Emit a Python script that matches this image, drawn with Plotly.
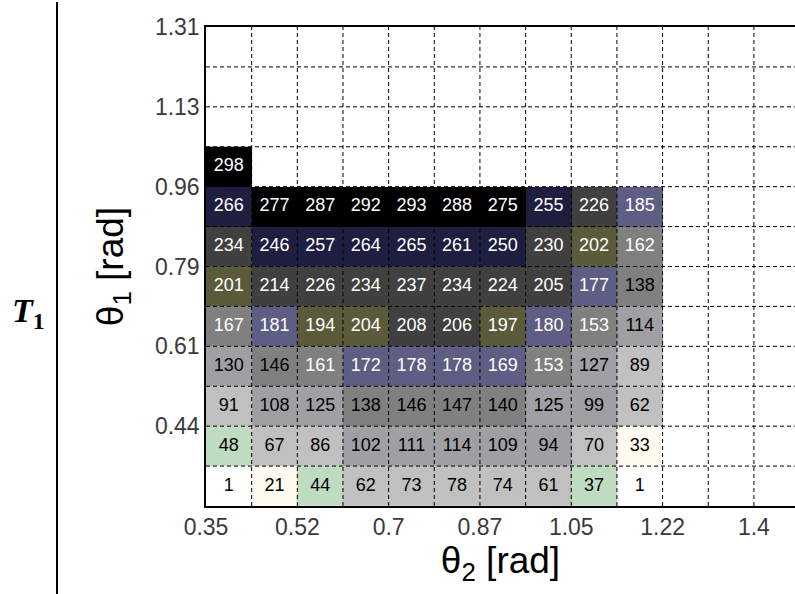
import numpy as np
import plotly.graph_objects as go

# Cell grid: theta2 columns start at 20 deg, theta1 rows start at 15 deg, 5 deg steps
theta2_start_deg = 20.0
theta1_start_deg = 15.0
step_deg = 5.0

# Counts per cell, rows listed from the lowest theta1 band upwards (None = empty cell)
row_0 = [1, 21, 44, 62, 73, 78, 74, 61, 37, 1]
row_1 = [48, 67, 86, 102, 111, 114, 109, 94, 70, 33]
row_2 = [91, 108, 125, 138, 146, 147, 140, 125, 99, 62]
row_3 = [130, 146, 161, 172, 178, 178, 169, 153, 127, 89]
row_4 = [167, 181, 194, 204, 208, 206, 197, 180, 153, 114]
row_5 = [201, 214, 226, 234, 237, 234, 224, 205, 177, 138]
row_6 = [234, 246, 257, 264, 265, 261, 250, 230, 202, 162]
row_7 = [266, 277, 287, 292, 293, 288, 275, 255, 226, 185]
row_8 = [298, None, None, None, None, None, None, None, None, None]
rows = [row_0, row_1, row_2, row_3, row_4, row_5, row_6, row_7, row_8]

# Colour bands
band_edges = [10, 35, 55, 92, 135, 168, 190, 204.5, 240, 270]
band_colors = ["#ffffff", "#fffbf0", "#c0dcc0", "#c0c0c0", "#a0a0a4", "#808080",
               "#5e5e84", "#5b5b3c", "#404040", "#1e1e40", "#000000"]
white_text_from = 150

# Tick labels
x_tick_deg = [20, 30, 40, 50, 60, 70, 80]
x_tick_text = ["0.35", "0.52", "0.7", "0.87", "1.05", "1.22", "1.4"]
y_tick_deg = [25, 35, 45, 55, 65, 75]
y_tick_text = ["0.44", "0.61", "0.79", "0.96", "1.13", "1.31"]

n_rows = len(rows)
n_cols = len(rows[0])
x_centers = np.radians(theta2_start_deg + step_deg * (np.arange(n_cols) + 0.5))
y_centers = np.radians(theta1_start_deg + step_deg * (np.arange(n_rows) + 0.5))

z_band = []
for r in rows:
    z_band.append([None if v is None else int(np.digitize(v, band_edges)) for v in r])

nb = len(band_colors)
colorscale = []
for i, c in enumerate(band_colors):
    colorscale.append([i / nb, c])
    colorscale.append([(i + 1) / nb, c])

fig = go.Figure()
fig.add_trace(go.Heatmap(
    x=x_centers, y=y_centers, z=z_band,
    zmin=-0.5, zmax=nb - 0.5, colorscale=colorscale,
    showscale=False, hoverinfo="skip", connectgaps=False,
))

# Dashed grid on top of the cells
x_lo_deg, x_hi_deg = 20.0, 84.5
y_lo_deg, y_hi_deg = 15.0, 75.0
gx, gy = [], []
for d in np.arange(x_lo_deg + step_deg, x_hi_deg, step_deg):
    gx += [np.radians(d), np.radians(d), None]
    gy += [np.radians(y_lo_deg), np.radians(y_hi_deg), None]
for d in np.arange(y_lo_deg + step_deg, y_hi_deg, step_deg):
    gx += [np.radians(x_lo_deg), np.radians(x_hi_deg), None]
    gy += [np.radians(d), np.radians(d), None]
fig.add_trace(go.Scatter(x=gx, y=gy, mode="lines",
                         line=dict(color="black", width=1, dash="4px,3px"),
                         hoverinfo="skip", showlegend=False))

# Cell labels
for use_white in (True, False):
    tx, ty, tt = [], [], []
    for j, r in enumerate(rows):
        for i, v in enumerate(r):
            if v is None:
                continue
            if (v >= white_text_from) == use_white:
                tx.append(x_centers[i]); ty.append(y_centers[j]); tt.append(str(v))
    fig.add_trace(go.Scatter(
        x=tx, y=ty, text=tt, mode="text",
        textfont=dict(family="Liberation Sans, Arial", size=18,
                      color="white" if use_white else "black"),
        hoverinfo="skip", showlegend=False))

tick_font = dict(family="Liberation Sans, Arial", size=23, color="#3a3a3a")
title_font = dict(family="Liberation Sans, Arial", size=37, color="black")
fig.update_layout(
    width=795, height=594,
    margin=dict(l=206, r=0, t=27, b=88),
    paper_bgcolor="white", plot_bgcolor="white",
    showlegend=False,
    xaxis=dict(range=[np.radians(x_lo_deg), np.radians(x_hi_deg)],
               tickvals=np.radians(x_tick_deg), ticktext=x_tick_text,
               showgrid=False, zeroline=False, showline=True, mirror=True,
               linecolor="black", linewidth=1.5, ticks="", tickfont=tick_font,
               title=dict(text="θ<sub>2</sub> [rad]", font=title_font, standoff=4)),
    yaxis=dict(range=[np.radians(y_lo_deg), np.radians(y_hi_deg)],
               tickvals=np.radians(y_tick_deg), ticktext=y_tick_text,
               showgrid=False, zeroline=False, showline=True, mirror=False,
               linecolor="black", linewidth=1.5, ticks="", tickfont=tick_font,
               title=dict(text="θ<sub>1</sub> [rad]", font=title_font, standoff=20)),
)

# Row label and separator on the left
fig.add_annotation(text="<b><i>T</i><sub>1</sub></b>", xref="paper", yref="paper",
                   x=(10 - 206) / 589, y=(506 - 313) / 479,
                   xanchor="left", yanchor="middle", showarrow=False,
                   font=dict(family="Liberation Serif, DejaVu Serif", size=34, color="black"))
fig.add_shape(type="line", xref="paper", yref="paper",
              x0=(57 - 206) / 589, x1=(57 - 206) / 589,
              y0=(506 - 2) / 479, y1=(506 - 594) / 479,
              line=dict(color="black", width=2))

fig.write_html("out.html")
